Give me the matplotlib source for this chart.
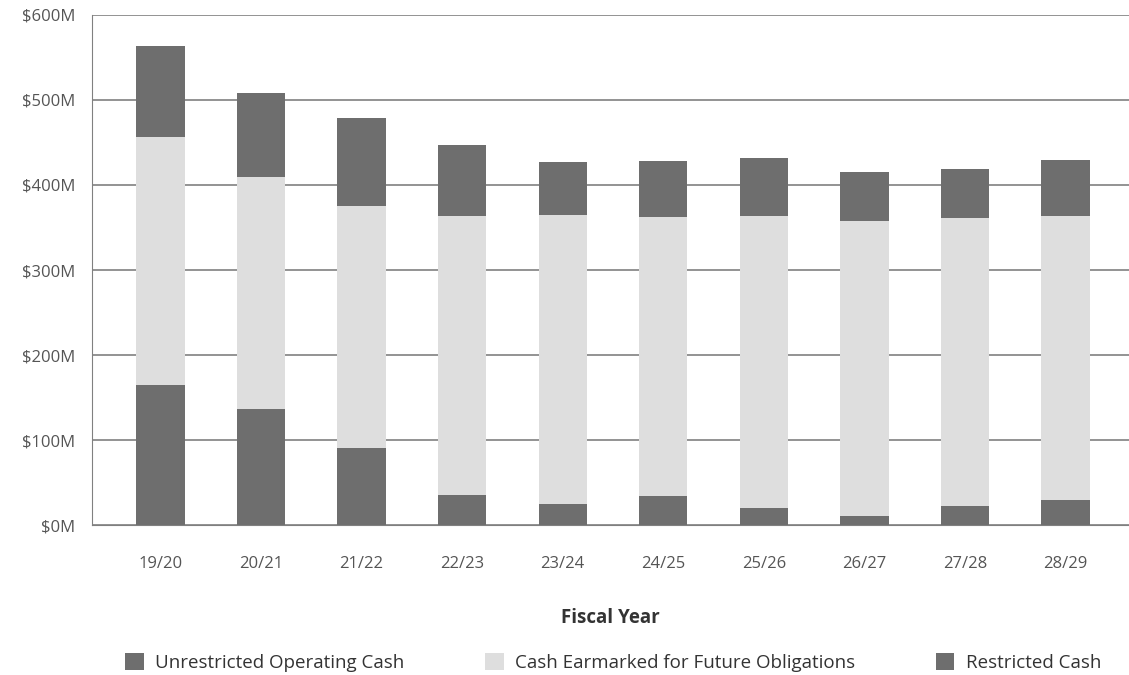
import matplotlib.pyplot as plt
import numpy as np

years = ["19/20", "20/21", "21/22", "22/23", "23/24", "24/25", "25/26", "26/27", "27/28", "28/29"]
unrestricted = [165, 137, 91, 35, 25, 34, 20, 11, 22, 29]
earmarked = [291, 272, 284, 329, 340, 328, 344, 347, 339, 335]
restricted = [107, 99, 104, 83, 62, 66, 68, 57, 58, 65]

dark = "#6e6e6e"
light = "#dedede"
txt = "#555555"

plt.rcParams['font.family'] = ['Open Sans', 'DejaVu Sans']

fig = plt.figure(figsize=(11.29, 6.75), dpi=100)
ax = fig.add_axes([0.0815, 0.222, 0.9185, 0.756])

x = np.arange(len(years))
w = 0.48
b1 = ax.bar(x, unrestricted, w, color=dark, label="Unrestricted Operating Cash", zorder=3)
b2 = ax.bar(x, earmarked, w, bottom=unrestricted, color=light, label="Cash Earmarked for Future Obligations", zorder=3)
bottom3 = np.array(unrestricted) + np.array(earmarked)
b3 = ax.bar(x, restricted, w, bottom=bottom3, color=dark, label="Restricted Cash", zorder=3)

ax.set_ylim(0, 600)
ax.set_xlim(-0.68, 9.63)
ax.set_yticks(range(0, 601, 100))
ax.set_yticklabels(["$%dM" % v for v in range(0, 601, 100)])
ax.set_xticks(x)
ax.set_xticklabels(years)
ax.yaxis.grid(True, color="#808080", linewidth=1.2, zorder=0)
ax.tick_params(axis='both', length=0, labelsize=12, colors=txt, pad=12)
ax.tick_params(axis='x', pad=22)
for s in ["top", "right"]:
    ax.spines[s].set_visible(False)
ax.spines["left"].set_color("#808080")
ax.spines["bottom"].set_color("#808080")

ax.set_xlabel("Fiscal Year", fontsize=13.5, fontweight="bold", color="#333333", labelpad=26)

fig.legend(handles=[b1, b2, b3], loc="lower center", bbox_to_anchor=(0.543, -0.02), ncol=3,
           frameon=False, fontsize=13.5, labelcolor="#333333", handlelength=1.0, handleheight=1.0,
           columnspacing=4.3, handletextpad=0.6)

plt.savefig("out.png", dpi=100)
